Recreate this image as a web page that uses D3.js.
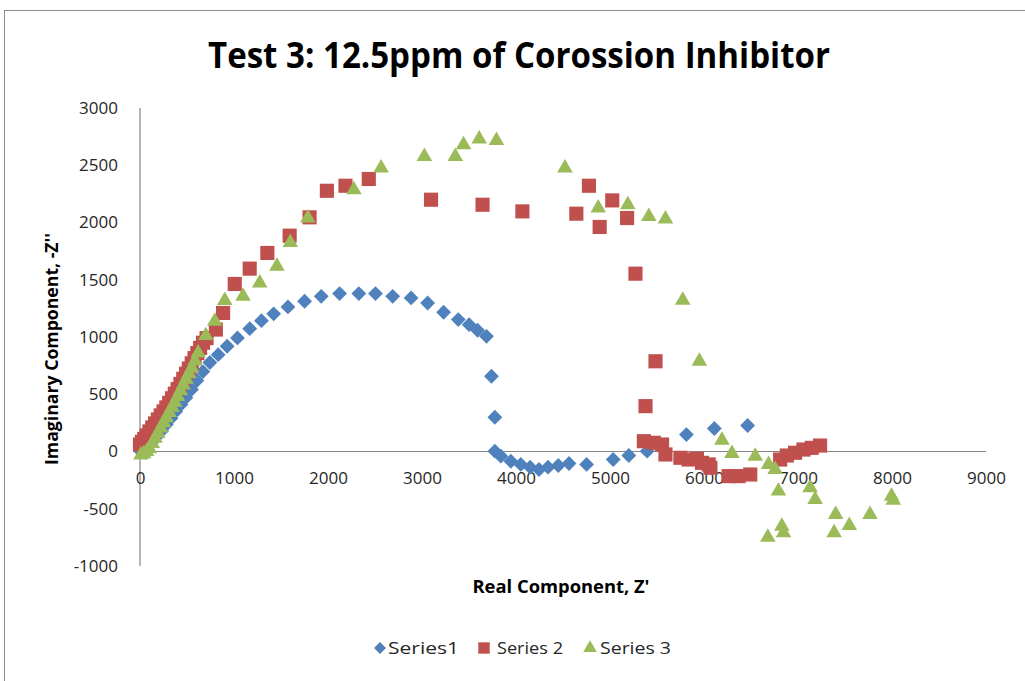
<!DOCTYPE html>
<html>
<head>
<meta charset="utf-8">
<script src="https://cdn.jsdelivr.net/npm/d3@7"></script>
<style>
    body { margin: 0; background: #ffffff; }
    svg  { display: block; }
</style>
</head>
<body>
<div id="chart"></div>
<script>
    // The data...
    var seriesNames = [ 'Series1', 'Series 2', 'Series 3' ];

    var series1X = [ 10, 40, 80, 130, 180, 230, 280, 330, 380, 435, 488, 548, 605, 669, 743, 832, 927, 1037, 1167, 1292,
                     1422, 1574, 1751, 1928, 2123, 2328, 2505, 2688, 2884, 3060, 3230, 3386, 3502, 3591, 3686, 3739, 3775,
                     3775, 3839, 3945, 4051, 4150, 4245, 4341, 4450, 4564, 4751, 5034, 5200, 5395, 5813, 6110, 6464 ];
    var series1Y = [ 0, 15, 45, 85, 130, 180, 235, 290, 350, 410, 470, 541, 620, 698, 777, 846, 919, 992, 1073, 1143,
                     1202, 1263, 1312, 1355, 1379, 1379, 1379, 1355, 1341, 1297, 1216, 1152, 1108, 1059, 1006, 657, 299,
                     3, -41, -85, -113, -137, -157, -137, -122, -105, -113, -70, -35, 3, 148, 201, 227 ];

    var series2X = [ 0, 20, 45, 70, 100, 130, 160, 190, 220, 250, 280, 310, 340, 370, 400, 430, 460, 490, 520, 550,
                     580, 610, 640, 670, 708, 807, 884, 1008, 1167, 1355, 1592, 1804, 1988, 2186, 2434, 3096, 3644,
                     4068, 4642, 4776, 4890, 5024, 5182, 5271, 5484, 5378, 5360, 5466, 5554, 5590, 5749, 5837, 5925,
                     5979, 6050, 6068, 6262, 6368, 6492, 6810, 6881, 6969, 7058, 7146, 7235 ];
    var series2Y = [ 60, 85, 110, 140, 175, 210, 245, 280, 315, 350, 385, 425, 465, 505, 545, 590, 635, 680, 725, 770,
                     815, 860, 905, 950, 990, 1065, 1210, 1463, 1597, 1734, 1885, 2045, 2277, 2321, 2380, 2199, 2155,
                     2097, 2077, 2321, 1961, 2193, 2039, 1553, 788, 396, 90, 76, 61, -26, -55, -70, -64,
                     -99, -113, -142, -215, -215, -201, -70, -35, -11, 17, 32, 52 ];

    var series3X = [ 10, 40, 70, 100, 130, 160, 190, 220, 250, 280, 310, 340, 370, 400, 430, 460, 490, 520, 550, 585,
                     619, 700, 796, 902, 1096, 1274, 1457, 1599, 1786, 2275, 2565, 3025, 3354, 3442, 3609, 3792, 4521,
                     4875, 5190, 5413, 5590, 5774, 5951, 6191, 6297, 6545, 6687, 6757, 6792, 6679, 6846, 6828, 7129,
                     7182, 7401, 7384, 7546, 7766, 7995, 8013 ];
    var series3Y = [ -30, -20, 0, 25, 70, 115, 160, 205, 250, 295, 340, 385, 430, 480, 530, 580, 630, 680, 730, 790,
                     861, 1012, 1137, 1318, 1355, 1472, 1617, 1826, 2039, 2286, 2476, 2577, 2577, 2679, 2729, 2717, 2476,
                     2127, 2155, 2053, 2030, 1320, 788, 99, -17, -41, -113, -157, -346, -748, -709, -652, -317,
                     -419, -550, -709, -646, -550, -390, -425 ];

    var xTicks = [ 0, 1000, 2000, 3000, 4000, 5000, 6000, 7000, 8000, 9000 ];
    var yTicks = [ -1000, -500, 0, 500, 1000, 1500, 2000, 2500, 3000 ];

    var colours = [ '#4f81bd', '#c0504d', '#9bbb59' ];

    var width  = 1025;
    var height = 681;

    var svg = d3.select ('#chart').append ('svg')
                .attr ('width', width)
                .attr ('height', height);

    // chart frame
    svg.append ('rect')
       .attr ('x', 4.5).attr ('y', 10.5)
       .attr ('width', 1100).attr ('height', 700)
       .attr ('fill', '#ffffff')
       .attr ('stroke', '#8c8c8c');

    // Define the scales
    var xScale = d3.scaleLinear ()
                   .domain ([ 0, 9000 ])
                   .range ([ 140, 986 ]);

    var yScale = d3.scaleLinear ()
                   .domain ([ -1000, 3000 ])
                   .range ([ 566, 108 ]);

    var font = '"Open Sans", "DejaVu Sans", sans-serif';

    // plain integers, hyphen minus like Excel
    var fmt = function (d) { return String (d); };

    // y axis, no tick marks
    var yAxis = d3.axisLeft (yScale)
                  .tickValues (yTicks)
                  .tickFormat (fmt)
                  .tickSize (0)
                  .tickPadding (22);

    var yG = svg.append ('g')
                .attr ('transform', 'translate(' + xScale(0) + ',0)')
                .call (yAxis);

    // x axis sits at y = 0
    var xAxis = d3.axisBottom (xScale)
                  .tickValues (xTicks)
                  .tickFormat (fmt)
                  .tickSize (0)
                  .tickPadding (20);

    var xG = svg.append ('g')
                .attr ('transform', 'translate(0,' + yScale(0) + ')')
                .call (xAxis);

    [ xG, yG ].forEach (function (g)
    {
        g.select ('.domain').attr ('stroke', '#868686').attr ('stroke-width', 1.2);
        g.selectAll ('text')
         .attr ('font-family', font)
         .attr ('font-size', '17px')
         .attr ('fill', '#262626');
    });
    xG.select ('.domain').attr ('d', 'M' + xScale(0) + ',0H' + xScale(9000));
    yG.select ('.domain').attr ('d', 'M0,' + yScale(3000) + 'V' + yScale(-1000));

    // markers
    var symbols = [
        d3.symbol ().type (d3.symbolSquare).size (110),
        d3.symbol ().type (d3.symbolSquare).size (200),
        d3.symbol ().type (d3.symbolTriangle).size (105)
    ];
    var rotations = [ 45, 0, 0 ];

    var allX = [ series1X, series2X, series3X ];
    var allY = [ series1Y, series2Y, series3Y ];

    for (var s = 0; s < 3; s++)
    {
        var pts = allX[s].map (function (x, i) { return [ x, allY[s][i] ]; });
        var rot = rotations[s];

        svg.append ('g')
           .selectAll ('path')
           .data (pts)
           .enter ()
           .append ('path')
           .attr ('d', symbols[s])
           .attr ('transform', function (d) {
               return 'translate(' + xScale(d[0]) + ',' + yScale(d[1]) + ') rotate(' + rot + ')';
           })
           .attr ('fill', colours[s]);
    }

    // Title
    svg.append ('text')
       .attr ('x', 519).attr ('y', 68)
       .attr ('text-anchor', 'middle')
       .attr ('font-family', font)
       .attr ('font-weight', 'bold')
       .attr ('font-size', '36px')
       .attr ('textLength', 622)
       .attr ('lengthAdjust', 'spacingAndGlyphs')
       .attr ('fill', '#000000')
       .text ('Test 3: 12.5ppm of Corossion Inhibitor');

    // axis titles
    svg.append ('text')
       .attr ('x', 561).attr ('y', 593)
       .attr ('text-anchor', 'middle')
       .attr ('font-family', font)
       .attr ('font-weight', 'bold')
       .attr ('font-size', '17px')
       .attr ('textLength', 177)
       .attr ('lengthAdjust', 'spacingAndGlyphs')
       .attr ('fill', '#000000')
       .text ("Real Component, Z'");

    svg.append ('text')
       .attr ('transform', 'translate(58,349) rotate(-90)')
       .attr ('text-anchor', 'middle')
       .attr ('font-family', font)
       .attr ('font-weight', 'bold')
       .attr ('font-size', '17px')
       .attr ('textLength', 232)
       .attr ('lengthAdjust', 'spacingAndGlyphs')
       .attr ('fill', '#000000')
       .text ("Imaginary Component, -Z''");

    // Legend
    var legendMarkX = [ 380, 484, 590 ];
    var legendTextX = [ 388, 497, 600 ];
    var legendTextW = [ 71, 66, 71 ];
    var legendSymbols = [
        d3.symbol ().type (d3.symbolSquare).size (72),
        d3.symbol ().type (d3.symbolSquare).size (130),
        d3.symbol ().type (d3.symbolTriangle).size (80)
    ];

    for (var i = 0; i < 3; i++)
    {
        svg.append ('path')
           .attr ('d', legendSymbols[i])
           .attr ('transform', 'translate(' + legendMarkX[i] + ',648) rotate(' + rotations[i] + ')')
           .attr ('fill', colours[i]);

        svg.append ('text')
           .attr ('x', legendTextX[i]).attr ('y', 654)
           .attr ('font-family', font)
           .attr ('font-size', '17px')
           .attr ('textLength', legendTextW[i])
           .attr ('lengthAdjust', 'spacingAndGlyphs')
           .attr ('fill', '#262626')
           .text (seriesNames[i]);
    }
</script>
</body>
</html>
